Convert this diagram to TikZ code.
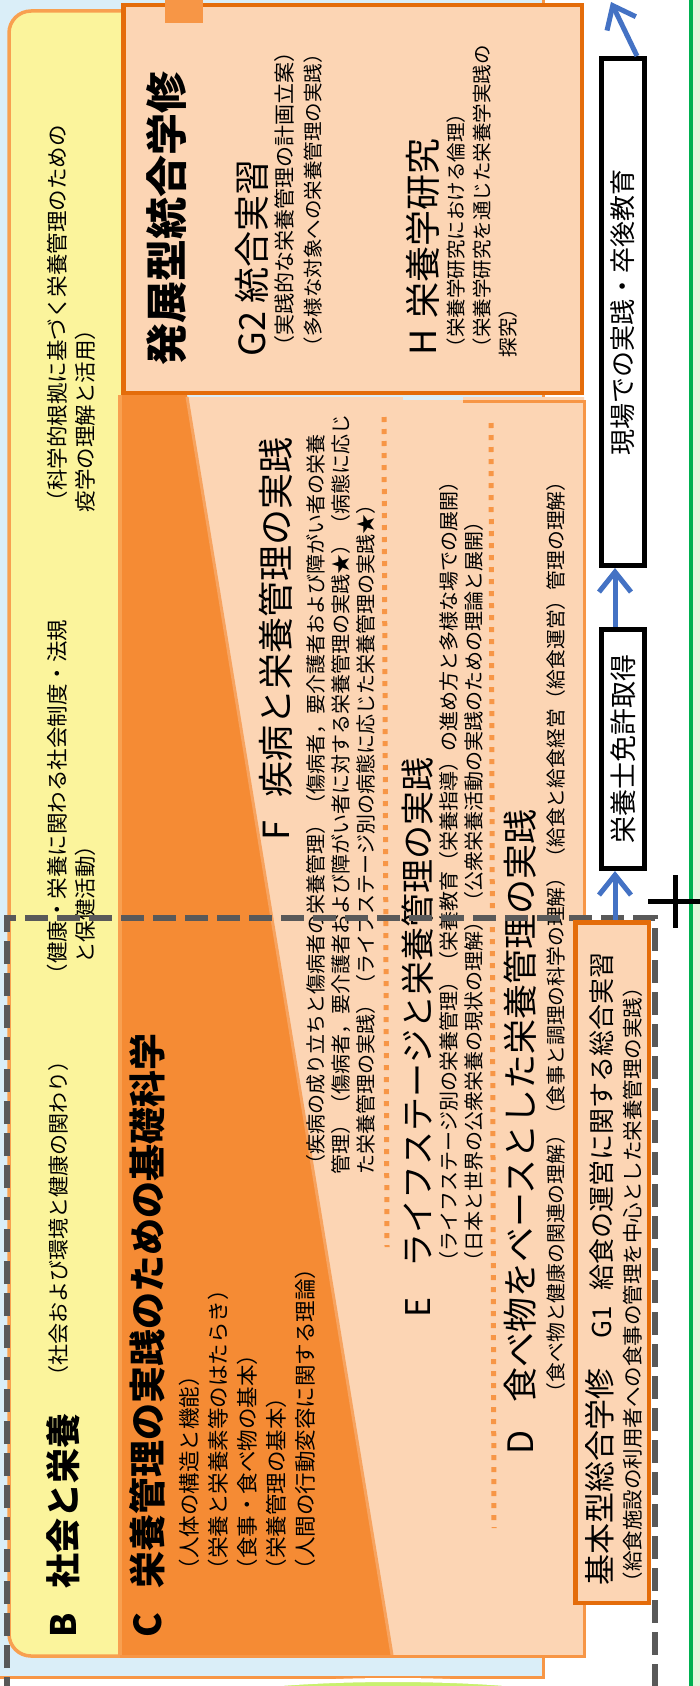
\documentclass[tikz,border=0pt]{standalone}
\usepackage{fontspec}
\setmainfont{Noto Sans CJK JP}
\usetikzlibrary{arrows.meta}
\definecolor{bgblue}{HTML}{DAEEF8}
\definecolor{yellowB}{HTML}{FBF49C}
\definecolor{orangeB}{HTML}{F8A050}
\definecolor{orangeM}{HTML}{F79646}
\definecolor{orangeD}{HTML}{F58B34}
\definecolor{orangeS}{HTML}{F7A35F}
\definecolor{orangeDk}{HTML}{E46C0A}
\definecolor{peach}{HTML}{FCD5B4}
\definecolor{arrowblue}{HTML}{4472C4}
\definecolor{dashgray}{HTML}{595959}
\definecolor{greenline}{HTML}{00B050}
\definecolor{palegreen}{HTML}{E2F7DC}
\definecolor{limegreen}{HTML}{C8F06E}
\newcommand\jfs[2]{\fontsize{#1}{#2}\selectfont}
\begin{document}
\begin{tikzpicture}[x=1pt,y=-1pt,
  vt/.style={rotate=90,anchor=west,inner sep=0pt,outer sep=0pt},
  vp/.style={rotate=90,anchor=north west,inner sep=0pt,outer sep=0pt,align=left},
  rbox/.style={draw=black,line width=5pt,fill=white,inner sep=0pt},
  obox/.style={draw=orangeDk,line width=4.5pt,fill=peach,inner sep=0pt},
  barrow/.style={draw=arrowblue,line width=5pt,-{Straight Barb[length=20pt,width=32pt,line width=5pt]}},
  dotline/.style={draw=orangeM,line width=5pt,dash pattern=on 5pt off 7pt},
  dashbox/.style={draw=dashgray,line width=6.5pt,dash pattern=on 23pt off 9pt}]
\useasboundingbox (0,0) rectangle (700,1686);
\fill[white] (0,0) rectangle (700,1686);
% background panel
\draw[draw=orangeM,line width=3pt,fill=bgblue] (-5,-5) rectangle (543,1677);
\draw[white,line width=4pt,fill=limegreen] (393,1710) ellipse [x radius=225pt,y radius=30pt];
\fill[palegreen] (692,0) rectangle (700,1686);
\draw[greenline,line width=3.5pt] (691,-2) -- (691,1690);
% B panel
\draw[draw=orangeB,line width=3.5pt,fill=yellowB,rounded corners=22pt] (9,11) rectangle (160,1656);
% C region and F/E/D region
\fill[orangeD] (121.5,395) -- (187,395) -- (392,1655) -- (121.5,1655) -- cycle;
\fill[peach] (187,397) -- (584,397) -- (584,1655) -- (392,1655) -- cycle;
\fill[bgblue] (403,395) rectangle (463,399.5);
\draw[orangeB,line width=3.5pt] (120,395) -- (120,1656);
\draw[orangeM,line width=3pt] (120,1656) -- (584,1656) -- (584,401) -- (463,401);
\draw[orangeS,line width=3pt] (187,397) -- (392,1655);
% top box
\node[obox,minimum width=458.5pt,minimum height=387.5pt] (tbox) at (352.5,199) {};
\fill[orangeM] (165,0) rectangle (203,23);
% dotted separators
\draw[dotline] (384,417) -- (387,1247);
\draw[dotline] (491,423) -- (494,1528);
% texts: top box
\node[vt,font=\jfs{42}{42}\bfseries] (title) at (166,365) {発展型統合学修};
\node[vt,font=\jfs{36}{36}] (g2) at (252,356) {G2\hspace{8pt}統合実習};
\node[vt,font=\jfs{21}{21}] (g2a) at (285,356) {（実践的な栄養管理の計画立案）};
\node[vt,font=\jfs{19.5}{19.5}] (g2b) at (313,356) {（多様な対象への栄養管理の実践）};
\node[vt,font=\jfs{36}{36}] (h) at (423,355) {H\hspace{10pt}栄養学研究};
\node[vp,font=\jfs{19.5}{26}] (hsub) at (447,357) {（栄養学研究における倫理）\\（栄養学研究を通じた栄養学実践の\\探究）};
% B texts
\node[vt,font=\jfs{35}{35}\bfseries] (bhead) at (63,1637) {B\hspace{24pt}社会と栄養};
\node[vt,font=\jfs{21}{21}] (bs1) at (59,1386) {（社会および環境と健康の関わり）};
\node[vp,font=\jfs{21.5}{28}] (bs2) at (47,985) {（健康・栄養に関わる社会制度・法規\\\hspace*{1em}と保健活動）};
\node[vp,font=\jfs{21.5}{28}] (bs3) at (47,512) {（科学的根拠に基づく栄養管理のための\\疫学の理解と活用）};
% C texts
\node[vt,font=\jfs{37}{37}\bfseries] (chead) at (147,1637) {C\hspace{24pt}栄養管理の実践のための基礎科学};
\node[vp,font=\jfs{21.5}{29}] (csub) at (179,1580) {（人体の構造と機能）\\（栄養と栄養素等のはたらき）\\（食事・食べ物の基本）\\（栄養管理の基本）\\（人間の行動変容に関する理論）};
% F texts
\node[vt,font=\jfs{36}{36}] (fhead) at (276,840) {F\hspace{23pt}疾病と栄養管理の実践};
\node[vp,font=\jfs{20}{25}] (fsub) at (306,1174) {（疾病の成り立ちと傷病者の栄養管理）（傷病者，要介護者および障がい者の栄養\\管理）（傷病者，要介護者および障がい者に対する栄養管理の実践★）（病態に応じ\\た栄養管理の実践）（ライフステージ別の病態に応じた栄養管理の実践★）};
% E texts
\node[vt,font=\jfs{34}{34}] (ehead) at (418,1317) {E\hspace{30pt}ライフステージと栄養管理の実践};
\node[vp,font=\jfs{20}{25}] (esub) at (439,1271) {（ライフステージ別の栄養管理）（栄養教育（栄養指導）の進め方と多様な場での展開）\\（日本と世界の公衆栄養の現状の理解）（公衆栄養活動の実践のための理論と展開）};
% D texts
\node[vt,font=\jfs{35}{35}] (dhead) at (520,1454) {D\hspace{27pt}食べ物をベースとした栄養管理の実践};
\node[vt,font=\jfs{19.8}{19.8}] (dsub) at (556,1402) {（食べ物と健康の関連の理解）（食事と調理の科学の理解）（給食と給食経営（給食運営）管理の理解）};
% dashed frame
\draw[dashbox] (7,1700) -- (7,918) -- (655,918) -- (655,1700);
% G1 box
\node[obox,minimum width=73.5pt,minimum height=680.5pt] (g1) at (612,1262.5) {};
\node[vt,font=\jfs{31}{31}] (g1main) at (600,1585) {基本型総合学修\hspace{30pt}{\jfs{26}{26}G1\hspace{15pt}給食の運営に関する総合実習}};
\node[vt,font=\jfs{20.5}{20.5}] (g1sub) at (633,1592) {（給食施設の利用者への食事の管理を中心とした栄養管理の実践）};
% right boxes
\node[rbox,rotate=90,minimum width=507pt,minimum height=43pt,font=\jfs{26}{26}] (genba) at (623,312) {現場での実践・卒後教育};
\node[rbox,rotate=90,minimum width=239pt,minimum height=43pt,font=\jfs{27}{27}] (menkyo) at (623,749) {栄養士免許取得};
% arrows
\coordinate (ax) at (615,0);
\coordinate (topend) at (611,2);
\draw[barrow] (g1.north -| ax) -- (menkyo.west -| ax);
\draw[barrow] (menkyo.east -| ax) -- (genba.west -| ax);
\draw[barrow] ([xshift=14pt]genba.east) -- (topend);
% cross
\draw[black,line width=5pt] (648,901) -- (702,901);
\draw[black,line width=5pt] (675,875) -- (675,928);
\end{tikzpicture}
\end{document}
